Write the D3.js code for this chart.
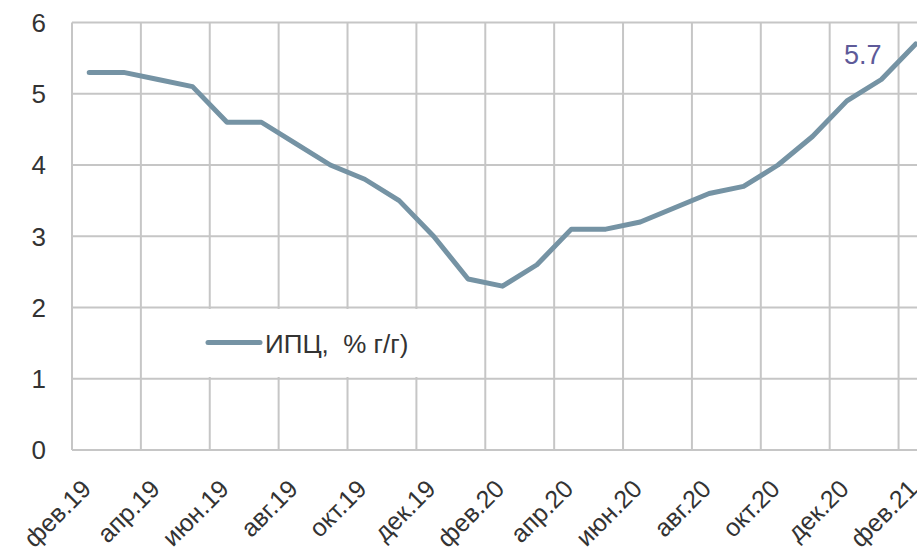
<!DOCTYPE html>
<html><head><meta charset="utf-8">
<script src="https://cdn.jsdelivr.net/npm/d3@7"></script>
<style>
html,body{margin:0;padding:0;background:#fff;}
text{font-family:"Liberation Sans",Arial,sans-serif;}
</style></head>
<body>
<svg id="c" width="917" height="553"></svg>
<script>
const categories = ["фев.19","мар.19","апр.19","май.19","июн.19","июл.19","авг.19","сен.19","окт.19","ноя.19","дек.19","янв.20",
  "фев.20","мар.20","апр.20","май.20","июн.20","июл.20","авг.20","сен.20","окт.20","ноя.20","дек.20","янв.21","фев.21"];
const cpi = [5.3,5.3,5.2,5.1,4.6,4.6,4.3,4.0,3.8,3.5,3.0,2.4,2.3,2.6,3.1,3.1,3.2,3.4,3.6,3.7,4.0,4.4,4.9,5.2,5.7];
const yTicks = [0,1,2,3,4,5,6];
const seriesName = "ИПЦ,  % г/г)";
const lastLabel = "5.7";

const svg = d3.select("#c");
const pL = 72, pR = 933, pT = 22.5, pB = 450;
const x = d3.scaleBand().domain(categories).range([pL, pR]).padding(0);
const y = d3.scaleLinear().domain([0,6]).range([pB, pT]);
const grid = "#c6c6c6";

// horizontal gridlines
svg.append("g").selectAll("line").data(yTicks).join("line")
  .attr("x1", pL).attr("x2", 917).attr("y1", d=>y(d)).attr("y2", d=>y(d))
  .attr("stroke", grid).attr("stroke-width", 2);
// vertical gridlines every 2 categories (at band boundaries)
const vIdx = d3.range(0, categories.length + 1, 2);
svg.append("g").selectAll("line").data(vIdx).join("line")
  .attr("x1", d=> pL + d*x.bandwidth()).attr("x2", d=> pL + d*x.bandwidth())
  .attr("y1", pT).attr("y2", pB)
  .attr("stroke", grid).attr("stroke-width", 2);

// y labels
svg.append("g").selectAll("text").data(yTicks).join("text")
  .attr("x", 46).attr("y", d=>y(d)).attr("dy","0.36em")
  .attr("text-anchor","end").attr("font-size",26).attr("fill","#333")
  .text(d=>d);

// x labels
const labIdx = d3.range(0, categories.length, 2);
svg.append("g").selectAll("text").data(labIdx).join("text")
  .attr("transform", i => `translate(${x(categories[i]) + x.bandwidth()/2 - 3},${484}) rotate(-45)`)
  .attr("text-anchor","end").attr("dy","0.36em").attr("font-size",25).attr("fill","#333")
  .text(i=>categories[i]);

// legend box
svg.append("rect").attr("x",152).attr("y",309).attr("width",300).attr("height",68).attr("fill","#fff");
svg.append("line").attr("x1",208).attr("x2",260).attr("y1",342.5).attr("y2",342.5)
  .attr("stroke","#7593a4").attr("stroke-width",5).attr("stroke-linecap","round");
svg.append("text").attr("x",265).attr("y",344).attr("dy","0.36em").attr("font-size",26).attr("fill","#333")
  .style("white-space","pre").text(seriesName);

// line
const line = d3.line().x((d,i)=>x(categories[i]) + x.bandwidth()/2).y(d=>y(d));
svg.append("path").datum(cpi).attr("d", line).attr("fill","none")
  .attr("stroke","#7593a4").attr("stroke-width",5).attr("stroke-linejoin","round").attr("stroke-linecap","round");

// last value label
const li = cpi.length - 1;
svg.append("text").attr("x", x(categories[li]) + x.bandwidth()/2 - 53).attr("y", y(cpi[li]) + 20)
  .attr("text-anchor","middle").attr("font-size",27).attr("fill","#5e5a99").text(lastLabel);
</script>
</body></html>
